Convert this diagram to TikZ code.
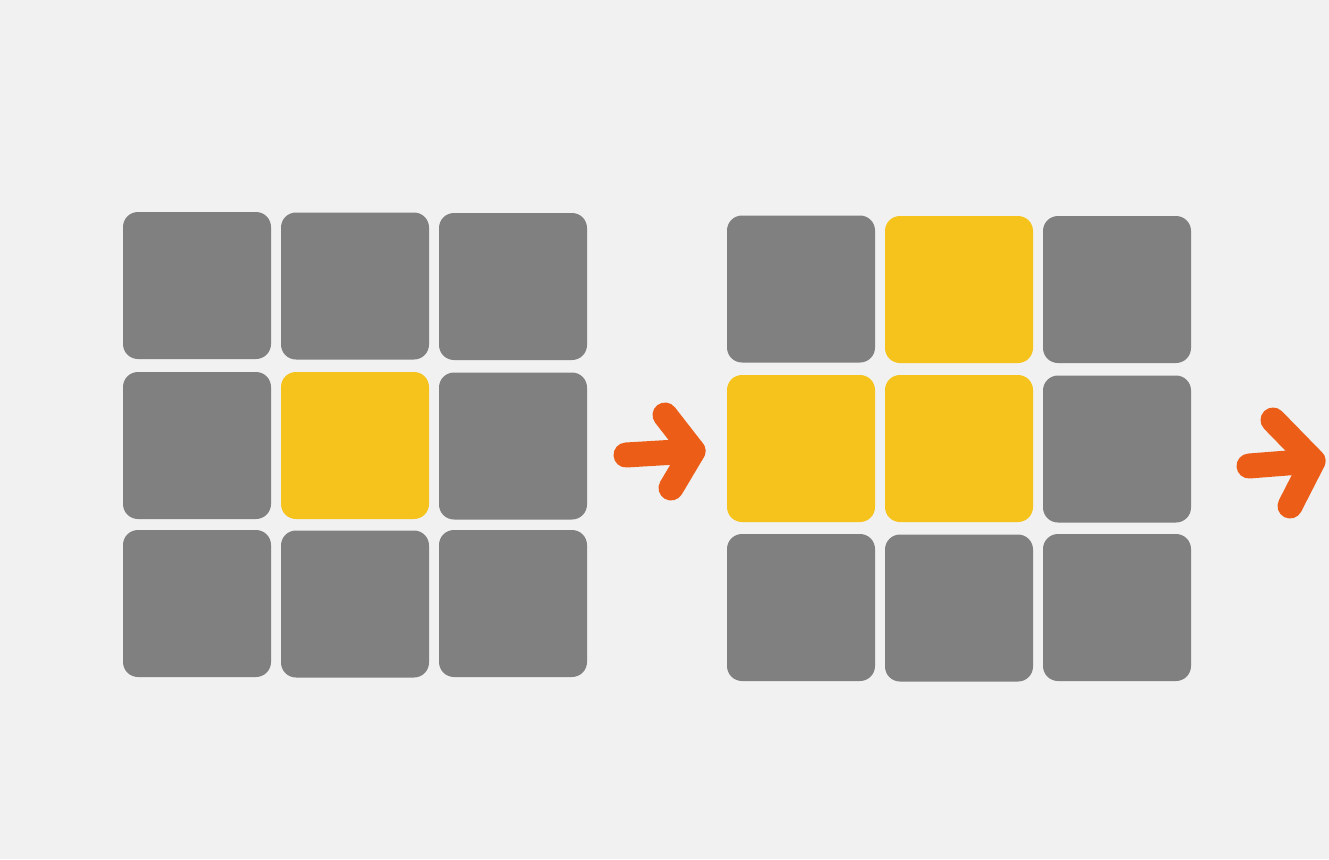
\documentclass[tikz,border=0pt]{standalone}
\begin{document}
\begin{tikzpicture}[x=1pt,y=-1pt,
  cell/.style={rectangle, rounded corners=15pt, minimum width=148pt, minimum height=147pt, inner sep=0pt, draw=none},
  grey/.style={cell, fill=cellgrey},
  yel/.style={cell, fill=cellyellow},
  stroke/.style={draw=arroworange, line width=25pt, line cap=round, line join=round}]
\definecolor{bg}{HTML}{F1F1F1}
\definecolor{cellgrey}{HTML}{808080}
\definecolor{cellyellow}{HTML}{F5C31B}
\definecolor{arroworange}{HTML}{EC5E17}
\fill[bg] (0,0) rectangle (1329,859);
\useasboundingbox (0,0) rectangle (1329,859);
% left grid
\node[grey] (a11) at (197,285.5) {};
\node[grey] (a12) at (355,286) {};
\node[grey] (a13) at (513,286.5) {};
\node[grey] (a21) at (197,445.5) {};
\node[yel]  (a22) at (355,445.5) {};
\node[grey] (a23) at (513,446) {};
\node[grey] (a31) at (197,603.5) {};
\node[grey] (a32) at (355,604) {};
\node[grey] (a33) at (513,603.5) {};
% right grid
\node[grey] (b11) at (801,289) {};
\node[yel]  (b12) at (959,289.5) {};
\node[grey] (b13) at (1117,289.5) {};
\node[yel]  (b21) at (801,448.5) {};
\node[yel]  (b22) at (959,448.5) {};
\node[grey] (b23) at (1117,449) {};
\node[grey] (b31) at (801,607.5) {};
\node[grey] (b32) at (959,608) {};
\node[grey] (b33) at (1117,607.5) {};
% arrow 1
\coordinate (p1s) at (626,455);
\coordinate (p1t) at (693,451);
\coordinate (p1u) at (665,415);
\coordinate (p1l) at (671,488);
\draw[stroke] (p1s) -- (p1t);
\draw[stroke] (p1u) -- (p1t) -- (p1l);
% arrow 2
\coordinate (p2s) at (1249,466);
\coordinate (p2t) at (1313,461);
\coordinate (p2u) at (1273,420);
\coordinate (p2l) at (1290,506);
\draw[stroke] (p2s) -- (p2t);
\draw[stroke] (p2u) -- (p2t) -- (p2l);
\end{tikzpicture}
\end{document}
